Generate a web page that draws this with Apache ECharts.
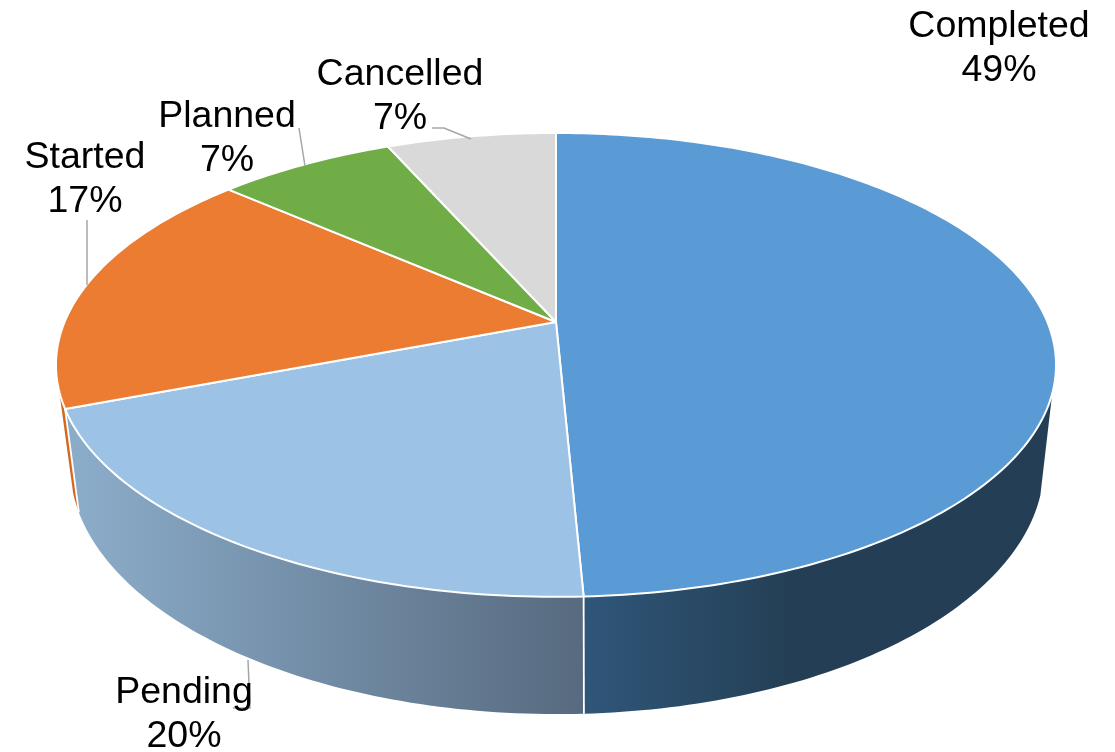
<!DOCTYPE html>
<html>
<head>
<meta charset="utf-8">
<style>html,body{margin:0;padding:0;background:#fff}#c{width:1115px;height:752px}</style>
<script src="https://cdn.jsdelivr.net/npm/echarts@6/dist/echarts.min.js"></script>
</head>
<body>
<div id="c"></div>
<script>
const categories = ['Completed', 'Pending', 'Started', 'Planned', 'Cancelled'];
const shareValues = [49.27, 19.83, 17.45, 6.9, 6.55];

const topColors = ['#5B9BD5', '#9CC3E5', '#EB7C31', '#70AD47', '#D9D9D9'];
const sideColors = [
  [[0, '#2F5679'], [1, '#243F55']],
  [[0, '#8BACC9'], [1, '#576A7F']],
  [[0, '#D2691F'], [1, '#D2691F']],
  [[0, '#5A8A38'], [1, '#5A8A38']],
  [[0, '#AEAEAE'], [1, '#AEAEAE']]
];
const sideGradientX = [[585, 790], [80, 584], [60, 230], [230, 388], [388, 556]];
const labelAnchors = [[999, 49], [184, 715], [85, 180], [227, 139], [400, 97]];
const leaderPaths = [
  null,
  [[248, 660], [250, 708], [233, 708]],
  [[87, 220], [87, 285]],
  [[299, 128], [305, 166]],
  [[432, 128], [444, 128], [471, 139]]
];

const perspective = 0.185;
const topFace = { x: 556, y: 322, a: 491.4, b: 224 };
const bottomFace = { x: 557, y: 419, a: 478.6, b: 240.5 };
const visibleFrom = 107.5 * Math.PI / 180;
const visibleTo = 253 * Math.PI / 180;
const total = shareValues.reduce((s, v) => s + v, 0);

function angleAt(i) {
  let s = 0;
  for (let k = 0; k < i; k++) s += shareValues[k];
  return s / total * Math.PI * 2;
}
function project(face, t) {
  const w = 1 + perspective * Math.cos(t);
  return [face.x + face.a * Math.sin(t) / w, face.y - face.b * Math.cos(t) / w];
}
function arc(face, t0, t1) {
  const n = Math.max(8, Math.ceil((t1 - t0) * 60));
  const pts = [];
  for (let k = 0; k <= n; k++) pts.push(project(face, t0 + (t1 - t0) * k / n));
  return pts;
}

function renderSide(params) {
  const i = params.dataIndex;
  const t0 = Math.max(angleAt(i), visibleFrom);
  const end = angleAt(i + 1);
  const t1 = Math.min(end, visibleTo);
  if (t1 <= t0) return { type: 'group', children: [] };
  const pts = arc(topFace, t0, t1).concat(arc(bottomFace, t0, t1).reverse());
  const g = sideGradientX[i];
  const children = [{
    type: 'polygon',
    z2: categories.length - i,
    shape: { points: pts },
    style: {
      fill: new echarts.graphic.LinearGradient(g[0], 0, g[1], 0,
        sideColors[i].map(s => ({ offset: s[0], color: s[1] })), true)
    }
  }];
  if (end < visibleTo) {
    children.push({
      type: 'polyline',
      z2: 10,
      shape: { points: [project(topFace, end), project(bottomFace, end)] },
      style: { fill: null, stroke: '#fff', lineWidth: 1.8 }
    });
  }
  return { type: 'group', children };
}
function renderTop(params) {
  const i = params.dataIndex;
  const pts = [[topFace.x, topFace.y]].concat(arc(topFace, angleAt(i), angleAt(i + 1)));
  return {
    type: 'polygon',
    shape: { points: pts },
    style: { fill: topColors[i], stroke: '#fff', lineWidth: 2, lineJoin: 'round' }
  };
}
function renderLabel(params, api) {
  const i = params.dataIndex;
  const children = [];
  if (leaderPaths[i]) {
    children.push({
      type: 'polyline',
      shape: { points: leaderPaths[i] },
      style: { fill: null, stroke: '#A6A6A6', lineWidth: 1.5 }
    });
  }
  children.push({
    type: 'text',
    z2: 5,
    style: {
      text: categories[i] + '\n' + Math.round(api.value(0) / total * 100) + '%',
      x: labelAnchors[i][0], y: labelAnchors[i][1],
      align: 'center', verticalAlign: 'middle',
      font: '37.5px "Liberation Sans", Arial, sans-serif',
      lineHeight: 44, fill: '#000'
    }
  });
  return { type: 'group', children };
}

const seriesData = categories.map((name, i) => ({ name, value: [shareValues[i]] }));
const chart = echarts.init(document.getElementById('c'), null, { renderer: 'canvas' });
chart.setOption({
  animation: false,
  backgroundColor: '#fff',
  tooltip: { show: false },
  series: [
    { type: 'custom', name: 'sides', coordinateSystem: 'none', z: 1, silent: true, renderItem: renderSide, data: seriesData },
    { type: 'custom', name: 'tops', coordinateSystem: 'none', z: 2, silent: true, renderItem: renderTop, data: seriesData },
    { type: 'custom', name: 'labels', coordinateSystem: 'none', z: 3, silent: true, renderItem: renderLabel, data: seriesData }
  ]
});
</script>
</body>
</html>
